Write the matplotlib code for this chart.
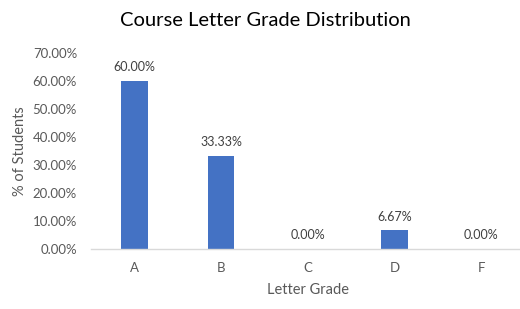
import matplotlib
matplotlib.use("Agg")
import matplotlib.pyplot as plt
from matplotlib.ticker import FuncFormatter

grades = ["A", "B", "C", "D", "F"]
percent = [60.00, 33.33, 0.00, 6.67, 0.00]
yticks = [0, 10, 20, 30, 40, 50, 60, 70]

plt.rcParams['font.family'] = ['Lato', 'DejaVu Sans']

fig = plt.figure(figsize=(5.2, 3.09), dpi=100)
ax = fig.add_axes([91/520, 1-249/309, (524.5-91)/520, (249-53)/309])

x = list(range(len(grades)))
bars = ax.bar(x, percent, width=0.31, color="#4472C4", zorder=2)
for xi, v in zip(x, percent):
    ax.annotate(f"{v:.2f}%", (xi, v), xytext=(0, 5.5), textcoords="offset points",
                ha="center", va="bottom", fontsize=9, color="#404040")

ax.set_xlim(-0.5, 4.5)
ax.set_ylim(0, 70)
ax.set_yticks(yticks)
ax.yaxis.set_major_formatter(FuncFormatter(lambda v, p: f"{v:.2f}%"))
ax.set_xticks(x)
ax.set_xticklabels(grades)
ax.tick_params(axis="both", length=0, labelsize=9.5, colors="#595959")
ax.tick_params(axis="x", pad=9)
ax.tick_params(axis="y", pad=10)
for s in ["top", "right", "left"]:
    ax.spines[s].set_visible(False)
ax.spines["bottom"].set_color("#D9D9D9")
ax.spines["bottom"].set_linewidth(1)

ax.set_xlabel("Letter Grade", fontsize=10.5, color="#595959", labelpad=7)
ax.set_ylabel("% of Students", fontsize=10.5, color="#595959", labelpad=4)
fig.text(265/520, 1-21/309, "Course Letter Grade Distribution", ha="center", va="center",
         fontsize=14.5, color="#000000")

fig.savefig("out.png", dpi=100)
